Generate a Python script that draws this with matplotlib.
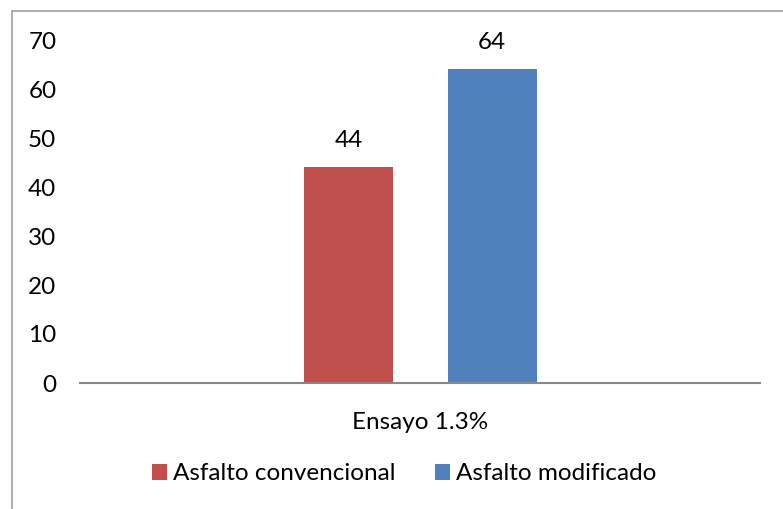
import numpy as np
import matplotlib.pyplot as plt
from matplotlib.patches import Rectangle

# Datos del ensayo
categorias = ['Ensayo 1.3%']
series = ['Asfalto convencional', 'Asfalto modificado']
valores = [[44], [64]]
colores = ['#C0504D', '#4F81BD']

plt.rcParams['font.family'] = ['Lato', 'DejaVu Sans']
fs = 17.5

fig = plt.figure(figsize=(7.83, 5.09), dpi=100)
ax = fig.add_axes([80 / 783, 1 - 383 / 509, 680 / 783, 343 / 509])

x = np.arange(len(categorias))
ancho = 0.131
desplaz = [-0.105, 0.106]
for i, nombre in enumerate(series):
    barras = ax.bar(x + desplaz[i], valores[i], ancho, color=colores[i], label=nombre)
    for b, v in zip(barras, valores[i]):
        ax.text(b.get_x() + b.get_width() / 2, v + 5.5, str(v),
                ha='center', va='center', fontsize=fs, color='#000000')

ax.set_xlim(-0.5, 0.5)
ax.set_ylim(0, 70)
ax.set_yticks(range(0, 71, 10))
ax.set_xticks(x)
ax.set_xticklabels(categorias)
ax.tick_params(axis='both', length=0, labelsize=fs, colors='#000000')
ax.tick_params(axis='y', pad=17)
ax.tick_params(axis='x', pad=21)
for lado in ['top', 'right', 'left']:
    ax.spines[lado].set_visible(False)
ax.spines['bottom'].set_color('#888888')
ax.spines['bottom'].set_linewidth(1.5)

ax.legend(loc='center', bbox_to_anchor=(404 / 783, 1 - 474 / 509), bbox_transform=fig.transFigure,
          ncol=2, frameon=False, fontsize=fs, handlelength=0.62, handleheight=0.62,
          handletextpad=0.25, columnspacing=1.6, borderpad=0, borderaxespad=0)

# Marco del gráfico
fig.add_artist(Rectangle((12 / 783, -0.1), 1.2, 1 - 11 / 509 + 0.1,
                         transform=fig.transFigure, fill=False,
                         edgecolor='#A0A0A0', linewidth=1.2))

fig.savefig('out.png', dpi=100)
